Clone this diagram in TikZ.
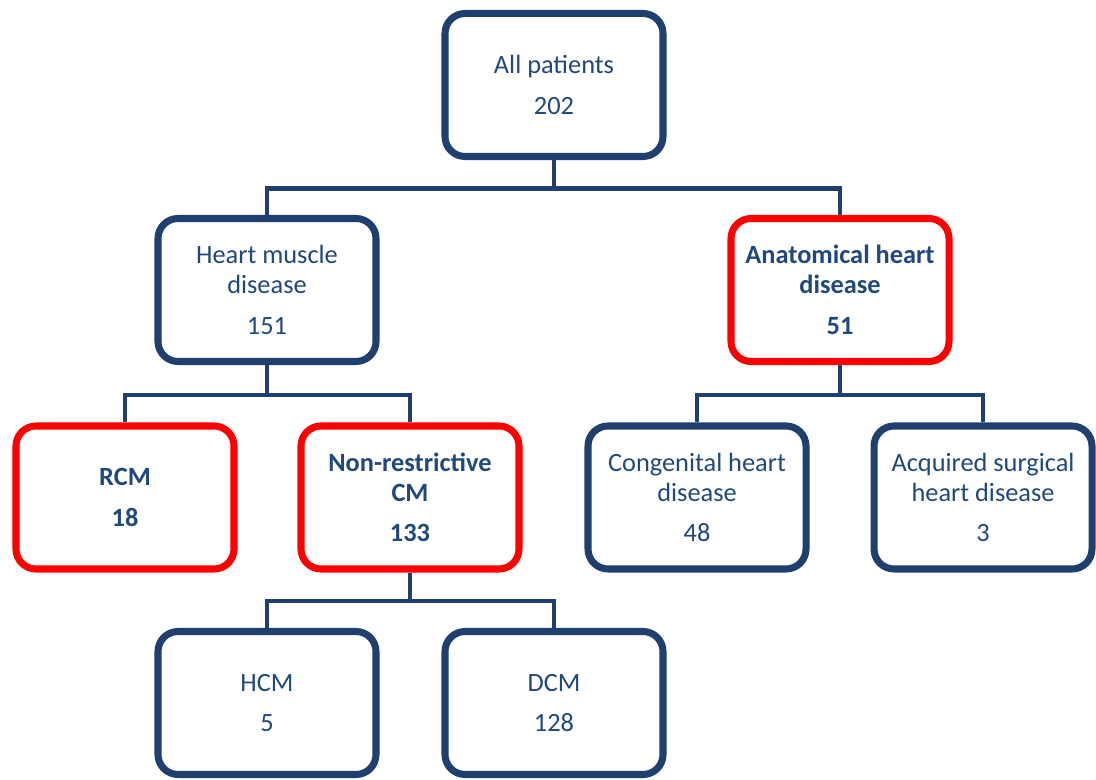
\documentclass[tikz,border=0pt]{standalone}
\usepackage{fontspec}
\setmainfont{Carlito}
\usepackage{tikz}
\usetikzlibrary{shadows}
\definecolor{boxblue}{HTML}{1F3F6E}
\definecolor{txtblue}{HTML}{1F497D}
\definecolor{hired}{HTML}{FF0000}

\begin{document}
\begin{tikzpicture}[
		box/.style={draw=boxblue, line width=4pt, rounded corners=0.4cm, fill=white,
			minimum width=4.36cm, minimum height=2.86cm, align=center, text=txtblue,
			font=\fontsize{15}{17}\selectfont,
			drop shadow={opacity=0.25, shadow xshift=1.5pt, shadow yshift=-1.5pt}},
		keybox/.style={box, draw=hired, font=\fontsize{15}{17}\selectfont\bfseries},
		link/.style={draw=boxblue, line width=2.3pt}]
		\useasboundingbox (0,0) rectangle (21.92,15.6);
		\node[box] (all) at (11.08,13.9) {All patients\\[6pt]202};
		\node[box] (hmd) at (5.34,9.8) {Heart muscle\\disease\\[6pt]151};
		\node[keybox] (ahd) at (16.8,9.8) {Anatomical heart\\disease\\[6pt]51};
		\node[keybox] (rcm) at (2.5,5.65) {RCM\\[6pt]18};
		\node[keybox] (nrcm) at (8.2,5.65) {Non-restrictive\\CM\\[6pt]133};
		\node[box] (chd) at (13.94,5.65) {Congenital heart\\disease\\[6pt]48};
		\node[box] (ashd) at (19.66,5.65) {Acquired surgical\\heart disease\\[6pt]3};
		\node[box] (hcm) at (5.34,1.54) {HCM\\[6pt]5};
		\node[box] (dcm) at (11.08,1.54) {DCM\\[6pt]128};
		%	tree links
		\draw[link] (all.south) -- ++(0,-0.57) -| (hmd.north);
		\draw[link] (all.south) -- ++(0,-0.57) -| (ahd.north);
		\draw[link] (hmd.south) -- ++(0,-0.6) -| (rcm.north);
		\draw[link] (hmd.south) -- ++(0,-0.6) -| (nrcm.north);
		\draw[link] (ahd.south) -- ++(0,-0.6) -| (chd.north);
		\draw[link] (ahd.south) -- ++(0,-0.6) -| (ashd.north);
		\draw[link] (nrcm.south) -- ++(0,-0.57) -| (hcm.north);
		\draw[link] (nrcm.south) -- ++(0,-0.57) -| (dcm.north);
	\end{tikzpicture}
\end{document}
